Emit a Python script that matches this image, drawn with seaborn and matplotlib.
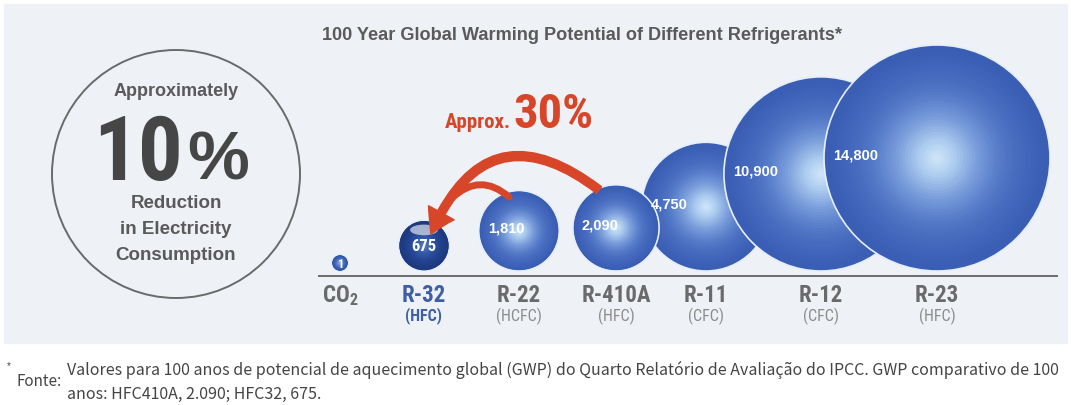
import matplotlib
matplotlib.use("Agg")
import matplotlib.pyplot as plt
import numpy as np
import pandas as pd
import seaborn as sns
from matplotlib import font_manager as fm
from matplotlib.colors import LinearSegmentedColormap
from matplotlib.font_manager import FontProperties
from matplotlib.patches import Circle, Ellipse, Rectangle

# %% data
refrigerants = ["CO2", "R-32", "R-22", "R-410A", "R-11", "R-12", "R-23"]
ref_class = ["", "(HFC)", "(HCFC)", "(HFC)", "(CFC)", "(CFC)", "(HFC)"]
gwp = np.array([1, 675, 1810, 2090, 4750, 10900, 14800])
# bubbles drawn back to front so the overlaps match the picture
draw_order = ["CO2", "R-32", "R-22", "R-11", "R-410A", "R-12", "R-23"]

title = "100 Year Global Warming Potential of Different Refrigerants*"
footnote_lines = [
    "Valores para 100 anos de potencial de aquecimento global (GWP) do Quarto Relatório de Avaliação do IPCC. GWP comparativo de 100",
    "anos: HFC410A, 2.090; HFC32, 675.",
]

# %% layout (pixels, y grows downwards)
W, H, DPI = 1071, 405, 100
slot_x = [340, 424, 519, 616, 706, 821, 937]
BASE_Y = 276
R_MIN, R_MAX = 8, 113
N_LAYERS = 36

RED = "#d8462a"
GREY = "#5a5a5a"
BLUE_TXT = "#3d5fa6"


def _condensed(bold):
    """Find a narrow sans face; the picture uses a condensed grotesque."""
    fonts = fm.fontManager.ttflist
    names = {f.name for f in fonts}
    for fam in ["Roboto Condensed", "Liberation Sans Narrow", "Arial Narrow",
                "Archivo Narrow", "PT Sans Narrow", "IBM Plex Sans Condensed",
                "Fira Sans Condensed", "Barlow Condensed", "Open Sans Condensed"]:
        if fam in names:
            return FontProperties(family=fam, weight="bold" if bold else "normal")
    target = 700 if bold else 400
    cands = [f for f in fonts
             if f.stretch in ("condensed", "semi-condensed") and f.style == "normal"]
    if cands:
        def key(f):
            try:
                w = abs(int(f.weight) - target)
            except (TypeError, ValueError):
                w = 999
            return (f.name != "Open Sans", w)
        return FontProperties(fname=min(cands, key=key).fname)
    return FontProperties(family="Liberation Sans", weight="bold" if bold else "normal")


COND_B = _condensed(True)
COND_R = _condensed(False)


def cfont(size, bold=True):
    fp = (COND_B if bold else COND_R).copy()
    fp.set_size(size)
    return fp


sns.set_theme(style="white")
plt.rcParams["font.family"] = ["Liberation Sans", "DejaVu Sans"]

fig = plt.figure(figsize=(W / DPI, H / DPI), dpi=DPI)
ax = fig.add_axes([0, 0, 1, 1])
ax.set_xlim(0, W)
ax.set_ylim(H, 0)
ax.axis("off")

ax.add_patch(Rectangle((4, 4), W - 8, 339, color="#eef1f5", zorder=0))

# marker area (pt^2) scales linearly with GWP, same as seaborn's size mapping
px2pt = 72 / DPI
s_min, s_max = (2 * R_MIN * px2pt) ** 2, (2 * R_MAX * px2pt) ** 2
area_pt = np.interp(gwp, [gwp.min(), gwp.max()], [s_min, s_max])
radius_px = np.sqrt(area_pt) / 2 / px2pt
centre_y = BASE_Y - 5 - radius_px

layer_frac = np.linspace(1.0, 0.04, N_LAYERS)
rows = []
for name in draw_order:
    i = refrigerants.index(name)
    for k, f in enumerate(layer_frac):
        rows.append(dict(name=name, x=slot_x[i], y=centre_y[i],
                         area=area_pt[i] * f * f, shade=(1 - f) ** 1.5,
                         lw=1.2 if k == 0 else 0.0))
layers = pd.DataFrame(rows)

bubble_cmap = LinearSegmentedColormap.from_list(
    "bubble", ["#3b5eb5", "#5177c6", "#7a9ddb", "#acccef", "#d4e9fa"])
small_cmap = LinearSegmentedColormap.from_list(
    "co2", ["#2f54a8", "#4a70c0", "#6d93d4", "#8fb2e2"])
r32_cmap = LinearSegmentedColormap.from_list(
    "r32", ["#1d397f", "#294a98", "#3c62b0", "#5b80c6"])

groups = [
    (layers[~layers["name"].isin(["CO2", "R-32"])], bubble_cmap),
    (layers[layers["name"] == "CO2"], small_cmap),
    (layers[layers["name"] == "R-32"], r32_cmap),
]
for part, cmap in groups:
    lo, hi = part["area"].min(), part["area"].max()
    sns.scatterplot(data=part, x="x", y="y", size="area", sizes=(lo, hi),
                    size_norm=(lo, hi), hue="shade", palette=cmap, hue_norm=(0, 1),
                    edgecolor="#e6eefa", linewidth=part["lw"].values,
                    legend=False, ax=ax, zorder=3)

# glossy cap on the R-32 bubble
i32 = refrigerants.index("R-32")
ax.add_patch(Ellipse((slot_x[i32], centre_y[i32] - radius_px[i32] * 0.62),
                     radius_px[i32] * 1.1, radius_px[i32] * 0.42,
                     color="white", alpha=0.6, lw=0, zorder=4))

# value labels
for i, name in enumerate(refrigerants):
    txt = f"{gwp[i]:,}"
    if name in ("CO2", "R-32"):
        ax.text(slot_x[i], centre_y[i] + 1, txt, ha="center", va="center",
                color="white", fontproperties=cfont(9 if name == "CO2" else 12),
                zorder=5)
    else:
        ax.text(slot_x[i] - radius_px[i] + 9, centre_y[i] - 2, txt, ha="left",
                va="center", color="white", fontsize=10.5, fontweight="bold",
                zorder=5)

# baseline and category labels
ax.hlines(BASE_Y, 318, 1058, color="#6c6c6c", lw=1.4, zorder=2)
for i, name in enumerate(refrigerants):
    is32 = name == "R-32"
    label = r"CO$_\mathregular{2}$" if name == "CO2" else name
    ax.text(slot_x[i], 296, label, ha="center", va="center",
            fontproperties=cfont(16.5), color=BLUE_TXT if is32 else "#6a6a6a")
    ax.text(slot_x[i], 316, ref_class[i], ha="center", va="center",
            fontproperties=cfont(11.5, bold=is32),
            color=BLUE_TXT if is32 else "#8c8c8c")

ax.text(322, 35, title, ha="left", va="center", fontsize=13.1,
        fontweight="bold", color=GREY)

# red arrow R-410A / R-22 -> R-32
ax.annotate("", xy=(431, 234), xytext=(599, 190), zorder=6,
            arrowprops=dict(arrowstyle="simple,head_length=0.85,head_width=1.05,tail_width=0.3",
                            connectionstyle="arc3,rad=0.64", color=RED,
                            mutation_scale=20, shrinkA=0, shrinkB=0))
ax.annotate("", xy=(452, 198), xytext=(509, 197), zorder=6,
            arrowprops=dict(arrowstyle="-", connectionstyle="arc3,rad=0.45",
                            color=RED, lw=5, shrinkA=0, shrinkB=0))
ax.text(511, 128, "Approx.", ha="right", va="baseline",
        fontproperties=cfont(15), color=RED)
ax.text(513, 128, "30%", ha="left", va="baseline",
        fontproperties=cfont(35), color=RED)

# left-hand callout
ax.add_patch(Circle((176, 174), 124, fill=False, ec="#6a6a6a", lw=1.4, zorder=2))
ax.text(176, 92, "Approximately", ha="center", va="center", fontsize=13,
        fontweight="bold", color=GREY)
ax.text(183, 180, "10", ha="right", va="baseline",
        fontproperties=cfont(64), color="#464646")
ax.text(187, 180, "%", ha="left", va="baseline", fontsize=50,
        fontweight="bold", color="#464646")
for yy, line in zip([204, 230, 255], ["Reduction", "in Electricity", "Consumption"]):
    ax.text(176, yy, line, ha="center", va="center", fontsize=13.5,
            fontweight="bold", color=GREY)

# footnote
ax.text(7, 366, "*", ha="left", va="center", fontsize=7, color="#444444")
ax.text(17, 382, "Fonte:", ha="left", va="center", fontsize=11, color="#444444",
        family=["Noto Sans CJK SC", "DejaVu Sans"])
for yy, line in zip([370, 394], footnote_lines):
    ax.text(67, yy, line, ha="left", va="center", fontsize=11.5,
            family=["Noto Sans CJK SC", "DejaVu Sans"], color="#444444")

fig.savefig("out.png", dpi=DPI)
